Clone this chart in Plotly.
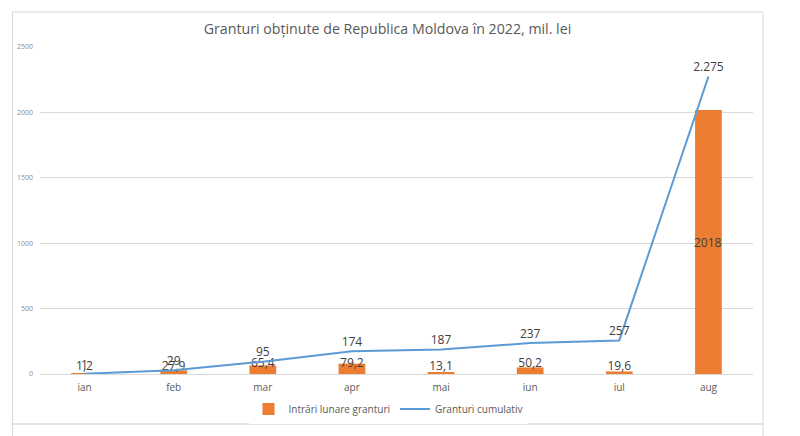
import plotly.graph_objects as go
from decimal import Decimal, ROUND_HALF_UP

months = ["ian", "feb", "mar", "apr", "mai", "iun", "iul", "aug"]
monthly = [1.2, 27.9, 65.4, 79.2, 13.1, 50.2, 19.6, 2018]
cumulative = [1.2, 29.1, 94.5, 173.7, 186.8, 237.0, 256.6, 2274.6]
y_ticks = [0, 500, 1000, 1500, 2000, 2500]

title_text = "Granturi obținute de Republica Moldova în 2022, mil. lei"
bar_name = "Intrări lunare granturi"
line_name = "Granturi cumulativ"


def fmt_month(v):
    if float(v).is_integer():
        return str(int(v))
    return f"{v:.1f}".replace(".", ",")


def fmt_cum(v):
    n = int(Decimal(str(v)).quantize(Decimal("1"), rounding=ROUND_HALF_UP))
    return f"{n:,}".replace(",", ".")


bar_text = [fmt_month(v) for v in monthly]
cum_text = [fmt_cum(v) for v in cumulative]
# small bars: label at bar base; the tall last bar gets its label centred
small_text = bar_text[:-1] + [""]

FONT = "Open Sans"
LBL = "#404040"
L, R, T, B = 40, 47, 47, 62
W, H = 800, 436
pw, ph = W - L - R, H - T - B


def px(x):
    return (x - L) / pw


def py(y):
    return (H - B - y) / ph


fig = go.Figure()
fig.add_trace(go.Bar(
    x=months, y=monthly, name=bar_name,
    marker=dict(color="#ED7D31", line=dict(width=0)),
    width=0.3,
    text=small_text, textposition="inside", textangle=0,
    insidetextanchor="start", constraintext="none",
    textfont=dict(family=FONT, size=12, color=LBL),
    insidetextfont=dict(family=FONT, size=12, color=LBL),
    cliponaxis=False, hoverinfo="x+y",
))
fig.add_trace(go.Scatter(
    x=months, y=cumulative, name=line_name, mode="lines",
    line=dict(color="#5B9BD5", width=2),
    cliponaxis=False,
))
fig.add_trace(go.Scatter(
    x=months, y=cumulative, mode="markers+text", showlegend=False,
    marker=dict(size=2, opacity=0, color="#5B9BD5"),
    text=cum_text, textposition="top center",
    textfont=dict(family=FONT, size=12, color=LBL),
    cliponaxis=False, hoverinfo="skip",
))

annotations = [dict(x=months[-1], y=monthly[-1] / 2, xref="x", yref="y",
                    text=bar_text[-1], showarrow=False,
                    font=dict(family=FONT, size=12, color=LBL))]

frame = "#D9D9D9"
shapes = [
    dict(type="line", xref="paper", yref="paper", x0=px(12.5), x1=px(12.5), y0=py(12), y1=py(436), line=dict(color=frame, width=1)),
    dict(type="line", xref="paper", yref="paper", x0=px(763), x1=px(763), y0=py(12), y1=py(436), line=dict(color=frame, width=1)),
    dict(type="line", xref="paper", yref="paper", x0=px(12.5), x1=px(763), y0=py(12), y1=py(12), line=dict(color=frame, width=1)),
    dict(type="line", xref="paper", yref="paper", x0=px(12.5), x1=px(763), y0=py(424), y1=py(424), line=dict(color=frame, width=1.5)),
]

fig.update_layout(
    width=W, height=H,
    margin=dict(l=L, r=R, t=T, b=B, autoexpand=False),
    paper_bgcolor="white", plot_bgcolor="white",
    title=dict(text=title_text, x=387.5 / W, xanchor="center", xref="container",
               y=1 - 29 / H, yanchor="middle", yref="container",
               font=dict(family=FONT, size=14.2, color="#595959")),
    showlegend=True,
    legend=dict(orientation="h", x=388 / W, xanchor="center", xref="container",
                y=1 - 409 / H, yanchor="middle", yref="container",
                font=dict(family=FONT, size=10, color="#595959"),
                itemwidth=30, tracegroupgap=0, traceorder="normal"),
    bargap=0.7,
    shapes=shapes,
    annotations=annotations,
    font=dict(family=FONT),
)
fig.update_xaxes(type="category", categoryorder="array", categoryarray=months,
                 range=[-0.5, len(months) - 0.5], showgrid=False, zeroline=False,
                 showline=False, ticks="", ticklabelstandoff=6, automargin=False,
                 tickfont=dict(family=FONT, size=10, color="#595959"))
fig.update_yaxes(range=[0, 2500], tickvals=y_ticks, ticktext=[str(v) for v in y_ticks],
                 showgrid=True, gridcolor="#D9D9D9", gridwidth=1,
                 zeroline=True, zerolinecolor="#D9D9D9", zerolinewidth=1,
                 showline=False, ticks="", ticklabelstandoff=6, automargin=False,
                 tickfont=dict(family=FONT, size=7, color="#8C8C8C"))

fig.write_html("out.html")
